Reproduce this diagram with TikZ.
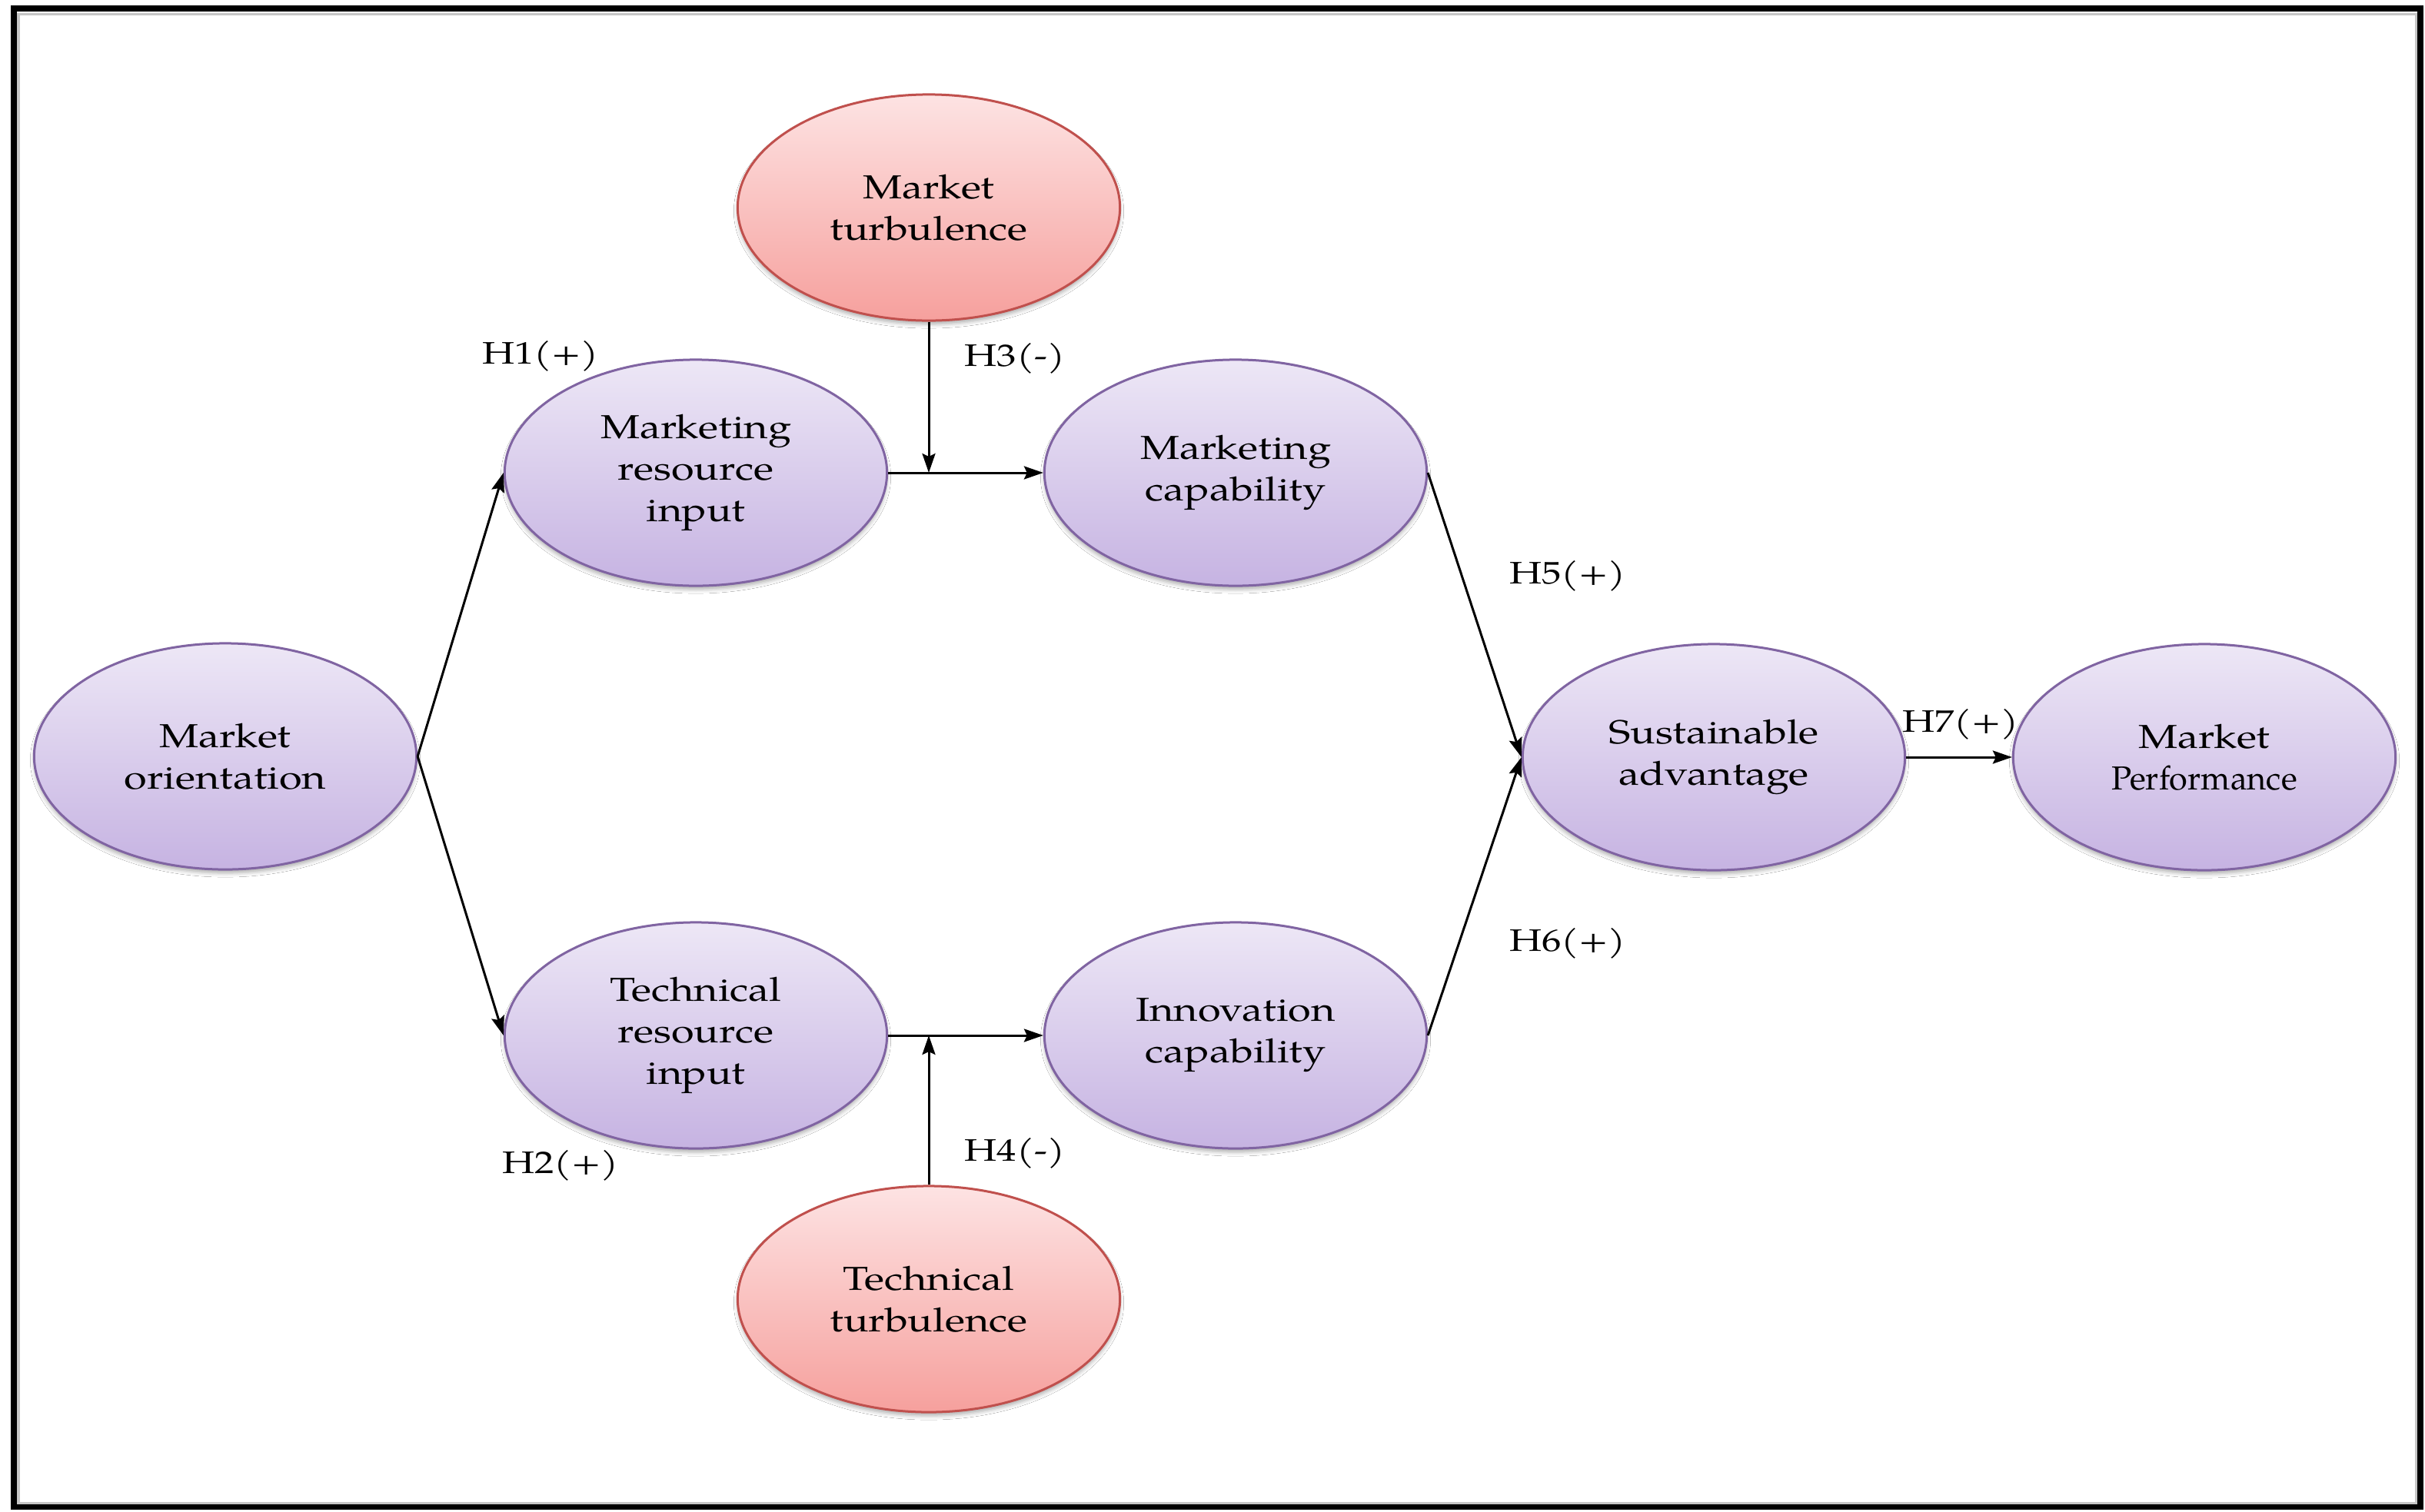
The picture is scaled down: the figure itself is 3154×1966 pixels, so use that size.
\documentclass[tikz,border=0pt]{standalone}
\usepackage{graphicx}
\usepackage{fontspec}
\setmainfont{texgyrepagella-regular.otf}[FakeStretch=1.25]
\usetikzlibrary{shapes.geometric,arrows.meta,shadows.blur}
\definecolor{purptop}{HTML}{EDE7F6}
\definecolor{purpbot}{HTML}{C6B3E2}
\definecolor{purpline}{HTML}{8064A2}
\definecolor{redtop}{HTML}{FDE3E3}
\definecolor{redbot}{HTML}{F6A09D}
\definecolor{redline}{HTML}{C0504D}
\begin{document}
\begin{tikzpicture}[x=0.01cm,y=-0.01cm,
  construct/.style={ellipse, draw=purpline, line width=0.03cm,
    top color=purptop, bottom color=purpbot,
    minimum width=4.97cm, minimum height=2.94cm, inner sep=0pt,
    align=center, font=\fontsize{12.3}{15.4}\selectfont,
    blur shadow={shadow xshift=0cm, shadow yshift=-0.05cm, shadow blur radius=0.05cm, shadow opacity=30}},
  moder/.style={construct, draw=redline, top color=redtop, bottom color=redbot},
  hyp/.style={font=\fontsize{11.5}{14}\selectfont, inner sep=0pt},
  link/.style={line width=0.03cm, -{Stealth[length=0.25cm,width=0.17cm,inset=0.04cm]}}]
\useasboundingbox (0,0) rectangle (3154,1966);
\fill[white] (0,0) rectangle (3154,1966);
\draw[black, line width=0.085cm] (18,11) rectangle (3148,1960);
\draw[gray!45, line width=0.03cm] (24,18) rectangle (3142,1955);

\node[construct] (mo)  at (293,984)  {Market\\orientation};
\node[construct] (mri) at (905,615)  {Marketing\\resource\\input};
\node[moder]     (mt)  at (1208,270) {Market\\turbulence};
\node[construct] (mc)  at (1607,615) {Marketing\\capability};
\node[construct] (tri) at (905,1347) {Technical\\resource\\input};
\node[construct] (ic)  at (1607,1347) {Innovation\\capability};
\node[moder]     (tt)  at (1208,1690) {Technical\\turbulence};
\node[construct] (sa)  at (2229,985) {Sustainable\\advantage};
\node[construct] (mp)  at (2867,985) {Market\\\scalebox{0.8}[1]{Performance}};

\node[hyp] (h1) at (703,463)  {H1(+)};
\node[hyp] (h3) at (1320,466) {H3(-)};
\node[hyp] (h5) at (2039,749) {H5(+)};
\node[hyp] (h7) at (2550,942) {H7(+)};
\node[hyp] (h6) at (2039,1227) {H6(+)};
\node[hyp] (h4) at (1320,1500) {H4(-)};
\node[hyp] (h2) at (729,1516) {H2(+)};

\coordinate (j1) at (mt.south |- mri.east);
\coordinate (j2) at (tt.north |- tri.east);

\draw[link] (mo.east) -- (mri.west);
\draw[link] (mo.east) -- (tri.west);
\draw[link] (mri.east) -- (mc.west);
\draw[link] (mt.south) -- (j1);
\draw[link] (tri.east) -- (ic.west);
\draw[link] (tt.north) -- (j2);
\draw[link] (mc.east) -- (sa.west);
\draw[link] (ic.east) -- (sa.west);
\draw[link] (sa.east) -- (mp.west);
\end{tikzpicture}
\end{document}
